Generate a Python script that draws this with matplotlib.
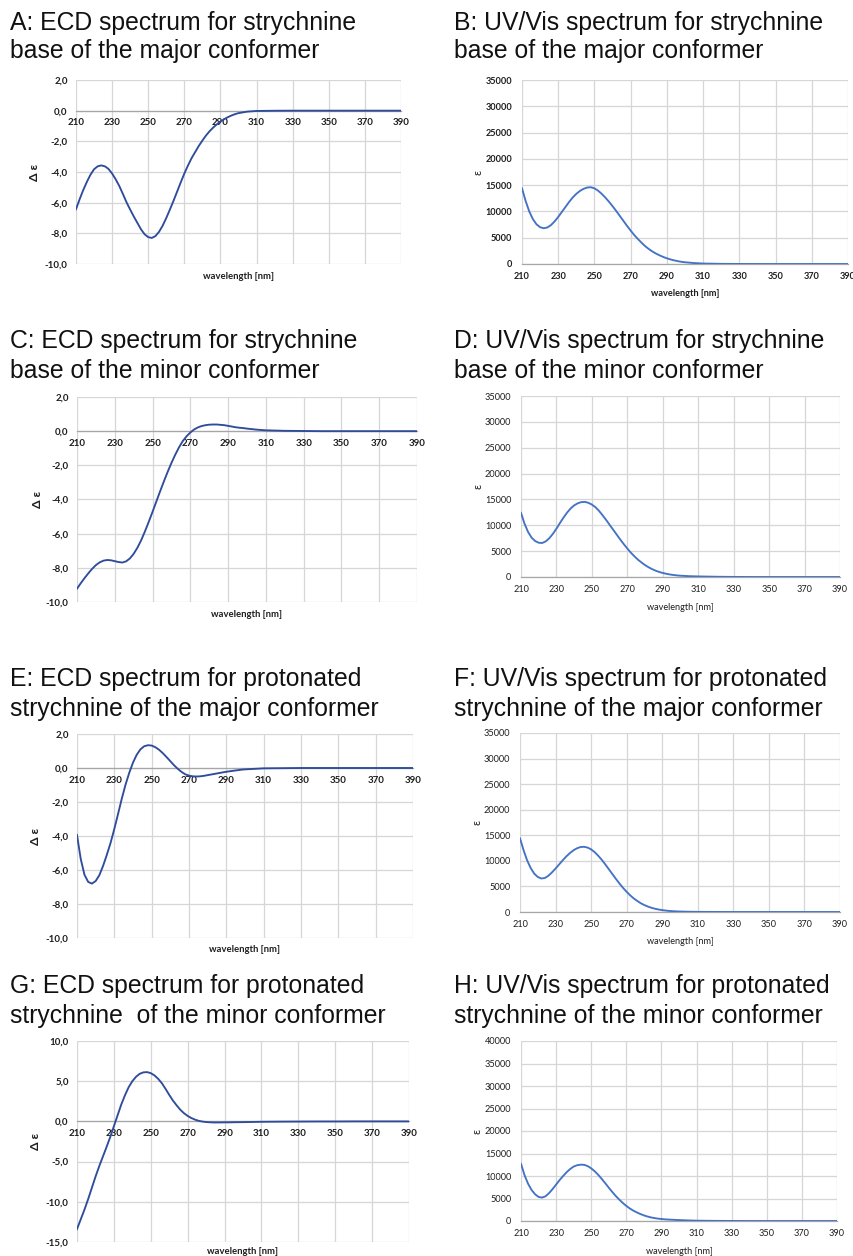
import numpy as np
import matplotlib
matplotlib.use("Agg")
import matplotlib.pyplot as plt
from matplotlib.ticker import FuncFormatter

# ---------------- data ----------------
wl = list(range(210, 301, 2)) + [305, 310, 320, 330, 340, 350, 360, 370, 380, 390]

ecd_base_major = [-6.43, -5.78, -5.18, -4.65, -4.18, -3.82, -3.63, -3.57, -3.63, -3.8,
                  -4.1, -4.48, -4.92, -5.44, -5.98, -6.45, -6.9, -7.32, -7.74, -8.06,
                  -8.25, -8.3, -8.18, -7.9, -7.5, -7.0, -6.45, -5.88, -5.28, -4.68,
                  -4.1, -3.58, -3.1, -2.7, -2.3, -1.95, -1.62, -1.34, -1.1, -0.89,
                  -0.71, -0.56, -0.43, -0.32, -0.23, -0.16,
                  -0.06, -0.02, -0.005, 0, 0, 0, 0, 0, 0, 0]
uv_base_major = [14400, 12000, 10000, 8550, 7550, 7000, 6800, 6950, 7400, 8100,
                 8950, 9900, 10850, 11800, 12650, 13350, 13900, 14300, 14550, 14600,
                 14400, 13950, 13350, 12650, 11850, 11000, 10100, 9150, 8200, 7250,
                 6350, 5500, 4750, 4050, 3400, 2850, 2380, 1980, 1640, 1340,
                 1080, 870, 690, 540, 420, 330,
                 180, 90, 30, 10, 0, 0, 0, 0, 0, 0]
ecd_base_minor = [-9.22, -8.9, -8.6, -8.32, -8.06, -7.84, -7.68, -7.58, -7.54, -7.56,
                  -7.61, -7.66, -7.69, -7.62, -7.45, -7.18, -6.82, -6.38, -5.86, -5.3,
                  -4.72, -4.12, -3.52, -2.94, -2.38, -1.86, -1.38, -0.95, -0.58, -0.3,
                  -0.08, 0.1, 0.22, 0.3, 0.35, 0.38, 0.39, 0.39, 0.37, 0.35,
                  0.31, 0.27, 0.23, 0.2, 0.18, 0.15,
                  0.09, 0.05, 0.02, 0.01, 0, 0, 0, 0, 0, 0]
uv_base_minor = [12400, 10300, 8700, 7600, 6950, 6620, 6580, 6900, 7500, 8350,
                 9350, 10450, 11500, 12450, 13250, 13850, 14250, 14480, 14520, 14350,
                 14000, 13500, 12800, 11950, 11050, 10100, 9150, 8200, 7250, 6350,
                 5500, 4700, 4000, 3350, 2800, 2300, 1880, 1520, 1220, 970,
                 780, 620, 490, 390, 310, 250,
                 160, 110, 50, 15, 0, 0, 0, 0, 0, 0]
ecd_prot_major = [-3.94, -5.35, -6.28, -6.7, -6.8, -6.65, -6.3, -5.75, -5.1, -4.4,
                  -3.58, -2.7, -1.8, -0.98, -0.28, 0.32, 0.78, 1.1, 1.28, 1.34,
                  1.32, 1.22, 1.07, 0.87, 0.64, 0.4, 0.16, -0.05, -0.23, -0.37,
                  -0.45, -0.49, -0.5, -0.49, -0.46, -0.42, -0.38, -0.34, -0.3, -0.26,
                  -0.22, -0.19, -0.16, -0.13, -0.1, -0.08,
                  -0.05, -0.02, -0.01, 0, 0, 0, 0, 0, 0, 0]
uv_prot_major = [14400, 12100, 10100, 8600, 7500, 6850, 6550, 6650, 7100, 7750,
                 8500, 9300, 10100, 10850, 11500, 12050, 12450, 12700, 12750, 12600,
                 12250, 11700, 11000, 10200, 9300, 8350, 7400, 6450, 5550, 4700,
                 3950, 3250, 2650, 2150, 1700, 1350, 1050, 820, 630, 480,
                 370, 280, 210, 160, 120, 90,
                 50, 25, 10, 0, 0, 0, 0, 0, 0, 0]
ecd_prot_minor = [-13.4, -12.2, -11.0, -9.7, -8.3, -6.9, -5.6, -4.4, -3.2, -1.95,
                  -0.6, 0.75, 2.1, 3.25, 4.25, 5.0, 5.55, 5.92, 6.1, 6.13,
                  6.0, 5.72, 5.3, 4.75, 4.05, 3.3, 2.6, 2.0, 1.45, 1.02,
                  0.68, 0.42, 0.22, 0.07, -0.02, -0.08, -0.11, -0.13, -0.13, -0.13,
                  -0.12, -0.12, -0.11, -0.1, -0.1, -0.09,
                  -0.07, -0.05, -0.03, -0.02, -0.01, -0.01, 0, 0, 0, 0]
uv_prot_minor = [12700, 10200, 8300, 6900, 5950, 5350, 5200, 5500, 6200, 7100,
                 8100, 9100, 10000, 10850, 11550, 12100, 12400, 12520, 12480, 12200,
                 11700, 11050, 10250, 9350, 8400, 7400, 6450, 5550, 4750, 4000,
                 3350, 2780, 2300, 1900, 1550, 1250, 1000, 800, 650, 530,
                 440, 370, 320, 280, 240, 210,
                 130, 70, 30, 10, 0, 0, 0, 0, 0, 0]

x_ticks = list(range(210, 391, 20))

titles = [
    ("A: ECD spectrum for strychnine", "base of the major conformer"),
    ("B: UV/Vis spectrum for strychnine", "base of the major conformer"),
    ("C: ECD spectrum for strychnine", "base of the minor conformer"),
    ("D: UV/Vis spectrum for strychnine", "base of the minor conformer"),
    ("E: ECD spectrum for protonated", "strychnine of the major conformer"),
    ("F: UV/Vis spectrum for protonated", "strychnine of the major conformer"),
    ("G: ECD spectrum for protonated", "strychnine  of the minor conformer"),
    ("H: UV/Vis spectrum for protonated", "strychnine of the minor conformer"),
]

# ---------------- style ----------------
W, H = 854, 1256
ECD_C = "#2f4c9c"
UV_C = "#4472c4"
GRID = "#d6d6d6"
AXIS = "#a6a6a6"
TXT = "#1e1e1e"
TICKF = ["Lato", "DejaVu Sans"]
TITLEF = ["Liberation Sans", "DejaVu Sans"]

fig = plt.figure(figsize=(W / 100, H / 100), dpi=100)
fig.patch.set_facecolor("white")


def add_ax(l, t, r, b):
    return fig.add_axes([l / W, 1 - b / H, (r - l) / W, (b - t) / H])


def comma(v, p):
    return f"{v:.1f}".replace(".", ",")


def ecd_panel(box, y, ylim, ystep, ylab_x, xlab_dy=12):
    l, t, r, b = box
    ax = add_ax(l, t, r, b)
    ax.plot(wl, y, color=ECD_C, lw=1.35, zorder=3)
    ax.set_xlim(210, 390)
    ax.set_ylim(*ylim)
    ax.set_xticks(x_ticks)
    ax.set_yticks(np.arange(ylim[0], ylim[1] + 0.001, ystep))
    ax.yaxis.set_major_formatter(FuncFormatter(comma))
    ax.grid(True, color=GRID, lw=0.9)
    ax.set_axisbelow(True)
    for s in ["top", "right", "left"]:
        ax.spines[s].set_visible(False)
    ax.spines["bottom"].set_position(("data", 0))
    ax.spines["bottom"].set_color(AXIS)
    ax.spines["bottom"].set_linewidth(0.9)
    ax.tick_params(axis="x", length=0, pad=5.5, labelsize=7, colors=TXT)
    ax.tick_params(axis="y", length=0, pad=6, labelsize=7, colors=TXT)
    for lab in ax.get_xticklabels() + ax.get_yticklabels():
        lab.set_fontweight("bold")
        lab.set_family(TICKF)
    fig.text((l + r) / 2 / W, 1 - (b + xlab_dy) / H, "wavelength [nm]",
             ha="center", va="center", fontsize=6.8, fontweight="bold",
             family=TICKF, color=TXT)
    fig.text(ylab_x / W, 1 - ((t + b) / 2) / H, "Δ ε", rotation=90,
             ha="center", va="center", fontsize=8.8, fontweight="bold",
             family=TICKF, color=TXT)
    return ax


def uv_panel(box, y, ymax, ylab_x, bold=False, xlab_dy=30):
    l, t, r, b = box
    ax = add_ax(l, t, r, b)
    ax.plot(wl, y, color=UV_C, lw=1.35, zorder=3)
    ax.set_xlim(210, 390)
    ax.set_ylim(0, ymax)
    ax.set_xticks(x_ticks)
    ax.set_yticks(np.arange(0, ymax + 1, 5000))
    ax.grid(True, color=GRID, lw=0.9)
    ax.set_axisbelow(True)
    for s in ["top", "right", "left"]:
        ax.spines[s].set_visible(False)
    ax.spines["bottom"].set_color(AXIS)
    ax.spines["bottom"].set_linewidth(0.9)
    ax.tick_params(axis="x", length=0, pad=6, labelsize=6.6, colors=TXT)
    ax.tick_params(axis="y", length=0, pad=7, labelsize=6.6, colors=TXT)
    for lab in ax.get_xticklabels() + ax.get_yticklabels():
        lab.set_family(TICKF)
        if bold:
            lab.set_fontweight("bold")
    fig.text((l + r) / 2 / W, 1 - (b + xlab_dy) / H, "wavelength [nm]",
             ha="center", va="center", fontsize=6.6,
             fontweight="bold" if bold else "normal", family=TICKF, color=TXT)
    fig.text(ylab_x / W, 1 - ((t + b) / 2) / H, "ε", rotation=90,
             ha="center", va="center", fontsize=8,
             family=TICKF, color=TXT)
    return ax


ecd_panel((76, 80, 401, 264), ecd_base_major, (-10, 2), 2, 35)
uv_panel((522, 80, 848, 264), uv_base_major, 35000, 478, bold=True)
ecd_panel((77, 397, 417, 602), ecd_base_minor, (-10, 2), 2, 38)
uv_panel((521, 396, 840, 577), uv_base_minor, 35000, 478)
ecd_panel((77, 734, 413, 938), ecd_prot_major, (-10, 2), 2, 36)
uv_panel((520, 733, 840, 912), uv_prot_major, 35000, 477)
ecd_panel((77, 1041, 409, 1242), ecd_prot_minor, (-15, 10), 5, 36, xlab_dy=10)
uv_panel((521, 1041, 837, 1221), uv_prot_minor, 40000, 477)

# titles: two lines per panel, left and right columns share the same rows
row_y = [(22, 50), (340, 370), (678, 708), (985, 1015)]
col_x = [10, 454]
for i, (l1, l2) in enumerate(titles):
    x = col_x[i % 2]
    y1, y2 = row_y[i // 2]
    fig.text(x / W, 1 - (y1 + 8) / H, l1, ha="left", va="baseline",
             fontsize=17.8, family=TITLEF, color="#111111")
    fig.text(x / W, 1 - (y2 + 8) / H, l2, ha="left", va="baseline",
             fontsize=17.8, family=TITLEF, color="#111111")

fig.savefig("out.png", dpi=100, facecolor="white")
